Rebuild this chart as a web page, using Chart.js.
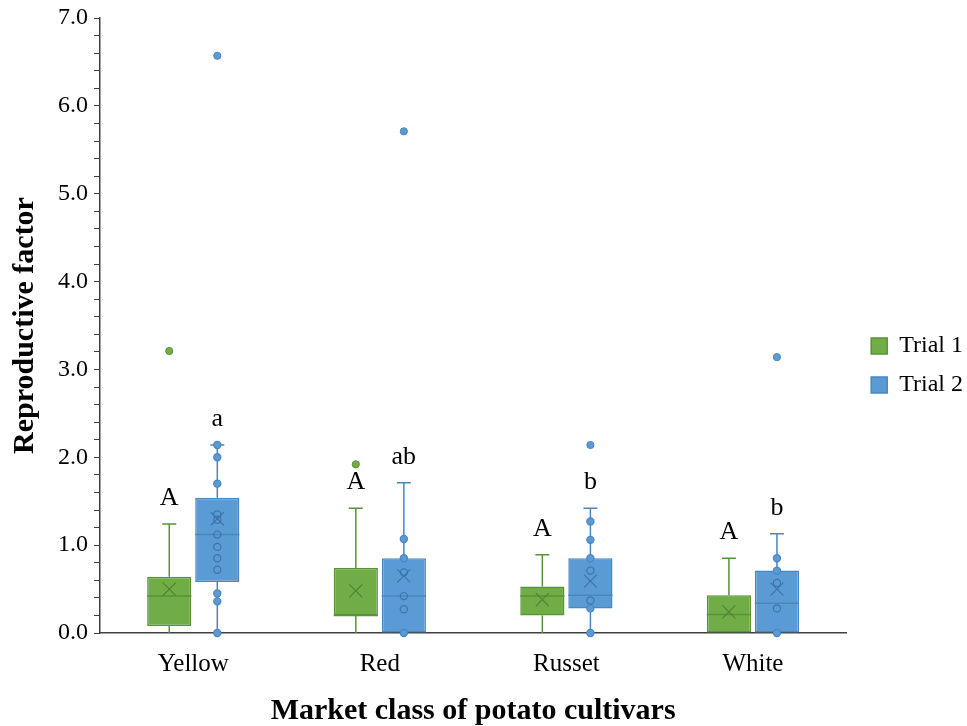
<!DOCTYPE html>
<html>
<head>
<meta charset="utf-8">
<script src="https://cdn.jsdelivr.net/npm/chart.js@4.4.1/dist/chart.umd.min.js"></script>
<style>
  html, body { margin: 0; padding: 0; background: #ffffff; }
  #wrap { width: 967px; height: 726px; }
</style>
</head>
<body>
<div id="wrap"><canvas id="c" width="967" height="726"></canvas></div>
<script>
// ---- data ----
const categories = ['Yellow', 'Red', 'Russet', 'White'];

const trial1Min    = [0, 0, 0, 0];
const trial1Q1     = [0.08, 0.20, 0.20, 0.00];
const trial1Median = [0.42, 0.20, 0.42, 0.21];
const trial1Q3     = [0.64, 0.74, 0.53, 0.43];
const trial1Max    = [1.24, 1.42, 0.89, 0.85];
const trial1Mean   = [0.50, 0.48, 0.38, 0.24];
const trial1Outliers = [[3.21], [1.92], [], []];
const trial1Points   = [[], [], [], []];
const trial1Letters  = ['A', 'A', 'A', 'A'];

const trial2Min    = [0, 0, 0, 0];
const trial2Q1     = [0.58, 0.00, 0.28, 0.00];
const trial2Median = [1.12, 0.42, 0.43, 0.34];
const trial2Q3     = [1.54, 0.85, 0.85, 0.71];
const trial2Max    = [2.14, 1.71, 1.42, 1.13];
const trial2Mean   = [1.30, 0.65, 0.59, 0.50];
const trial2Outliers = [[6.57], [5.71], [2.14], [3.14]];
const trial2Points   = [
  [0, 0.36, 0.45, 0.72, 0.85, 0.98, 1.12, 1.29, 1.35, 1.70, 2.00, 2.14],
  [0, 0.27, 0.42, 0.69, 0.85, 1.07],
  [0, 0.28, 0.37, 0.71, 0.85, 1.06, 1.27],
  [0, 0.28, 0.57, 0.71, 0.85]
];
const trial2Letters  = ['a', 'ab', 'b', 'b'];

const yTicksMajor = [0, 1, 2, 3, 4, 5, 6, 7];

// ---- styles ----
const SERIF = '"Liberation Serif", "Times New Roman", serif';
const styles = [
  { fill: '#70AD47', stroke: '#5A9237', dark: '#4F8231' },
  { fill: '#5B9BD5', stroke: '#4A86C0', dark: '#3C74AA' }
];
const stats = [
  { min: trial1Min, q1: trial1Q1, med: trial1Median, q3: trial1Q3, max: trial1Max, mean: trial1Mean, out: trial1Outliers, pts: trial1Points, letters: trial1Letters },
  { min: trial2Min, q1: trial2Q1, med: trial2Median, q3: trial2Q3, max: trial2Max, mean: trial2Mean, out: trial2Outliers, pts: trial2Points, letters: trial2Letters }
];

const legendShift = {
  id: 'legendShift',
  afterLayout(chart) {
    if (chart.legend) { chart.legend.left += 10; chart.legend.right += 10; }
  }
};

const boxPlugin = {
  id: 'boxPlugin',
  afterDatasetsDraw(chart) {
    const ctx = chart.ctx;
    const y = chart.scales.y;
    chart.data.datasets.forEach((ds, di) => {
      const meta = chart.getDatasetMeta(di);
      const st = stats[di];
      const sty = styles[di];
      meta.data.forEach((bar, j) => {
        const x = bar.x;
        const w = bar.width;
        const pQ1 = y.getPixelForValue(st.q1[j]);
        const pQ3 = y.getPixelForValue(st.q3[j]);
        const pMin = y.getPixelForValue(st.min[j]);
        const pMax = y.getPixelForValue(st.max[j]);
        const pMed = y.getPixelForValue(st.med[j]);
        const pMean = y.getPixelForValue(st.mean[j]);
        ctx.save();
        ctx.strokeStyle = sty.stroke;
        ctx.lineWidth = 1.5;
        // whiskers
        ctx.beginPath();
        ctx.moveTo(x, pQ3); ctx.lineTo(x, pMax);
        ctx.moveTo(x, pQ1); ctx.lineTo(x, pMin);
        ctx.moveTo(x - 7, pMax); ctx.lineTo(x + 7, pMax);
        ctx.stroke();
        // median
        ctx.beginPath();
        ctx.moveTo(x - w / 2, pMed); ctx.lineTo(x + w / 2, pMed);
        ctx.stroke();
        // mean X
        ctx.strokeStyle = sty.dark;
        ctx.lineWidth = 1.2;
        const s = 6.5;
        ctx.beginPath();
        ctx.moveTo(x - s, pMean - s); ctx.lineTo(x + s, pMean + s);
        ctx.moveTo(x + s, pMean - s); ctx.lineTo(x - s, pMean + s);
        ctx.stroke();
        // points
        st.pts[j].forEach(v => {
          const py = y.getPixelForValue(v);
          const inside = v > st.q1[j] + 1e-9 && v < st.q3[j] - 1e-9;
          ctx.beginPath();
          ctx.arc(x, py, 3.6, 0, Math.PI * 2);
          ctx.lineWidth = 1.2;
          ctx.strokeStyle = inside ? sty.dark : sty.stroke;
          if (!inside) { ctx.fillStyle = sty.fill; ctx.fill(); }
          ctx.stroke();
        });
        // outliers
        st.out[j].forEach(v => {
          const py = y.getPixelForValue(v);
          ctx.beginPath();
          ctx.arc(x, py, 3.6, 0, Math.PI * 2);
          ctx.fillStyle = sty.fill;
          ctx.fill();
          ctx.lineWidth = 1;
          ctx.strokeStyle = sty.stroke;
          ctx.stroke();
        });
        // significance letters
        ctx.fillStyle = '#000';
        ctx.font = '26px ' + SERIF;
        ctx.textAlign = 'center';
        ctx.textBaseline = 'middle';
        ctx.fillText(st.letters[j], x, pMax - 26);
        ctx.restore();
      });
    });
  }
};

new Chart(document.getElementById('c'), {
  type: 'bar',
  data: {
    labels: categories,
    datasets: [
      {
        label: 'Trial 1',
        data: categories.map((_, i) => [trial1Q1[i], trial1Q3[i]]),
        backgroundColor: styles[0].fill,
        borderColor: styles[0].stroke,
        borderWidth: 1.5,
        borderSkipped: false,
        categoryPercentage: 0.515,
        barPercentage: 0.92
      },
      {
        label: 'Trial 2',
        data: categories.map((_, i) => [trial2Q1[i], trial2Q3[i]]),
        backgroundColor: styles[1].fill,
        borderColor: styles[1].stroke,
        borderWidth: 1.5,
        borderSkipped: false,
        categoryPercentage: 0.515,
        barPercentage: 0.92
      }
    ]
  },
  options: {
    responsive: false,
    animation: false,
    devicePixelRatio: 1,
    layout: { padding: { left: 8, top: 5, right: 4, bottom: 0 } },
    plugins: {
      tooltip: { enabled: false },
      legend: {
        position: 'right',
        labels: {
          font: { family: SERIF, size: 24 },
          color: '#000',
          boxWidth: 16,
          boxHeight: 16,
          padding: 15
        }
      }
    },
    scales: {
      x: {
        grid: { display: false, drawTicks: false },
        border: { display: true, color: '#404040', width: 1.5 },
        ticks: { font: { family: SERIF, size: 25, lineHeight: 1.0 }, color: '#000', padding: 19 },
        title: {
          display: true,
          text: 'Market class of potato cultivars',
          font: { family: SERIF, size: 30, weight: 'bold', lineHeight: 1.0 },
          color: '#000',
          padding: { top: 0, bottom: 0 }
        }
      },
      y: {
        min: 0,
        max: 7,
        ticks: {
          stepSize: 0.2,
          autoSkip: false,
          font: { family: SERIF, size: 24, lineHeight: 1.0 },
          color: '#000',
          padding: 6,
          callback: (v) => {
            const r = Math.round(v);
            return (Math.abs(v - r) < 1e-6 && yTicksMajor.includes(r)) ? r.toFixed(1) : '';
          }
        },
        grid: { drawOnChartArea: false, drawTicks: true, tickLength: 6, color: '#404040' },
        border: { display: true, color: '#404040', width: 1.5 },
        title: {
          display: true,
          text: 'Reproductive factor',
          font: { family: SERIF, size: 30, weight: 'bold', lineHeight: 1.0 },
          color: '#000',
          padding: { top: 2, bottom: 12 }
        }
      }
    }
  },
  plugins: [legendShift, boxPlugin]
});
</script>
</body>
</html>
